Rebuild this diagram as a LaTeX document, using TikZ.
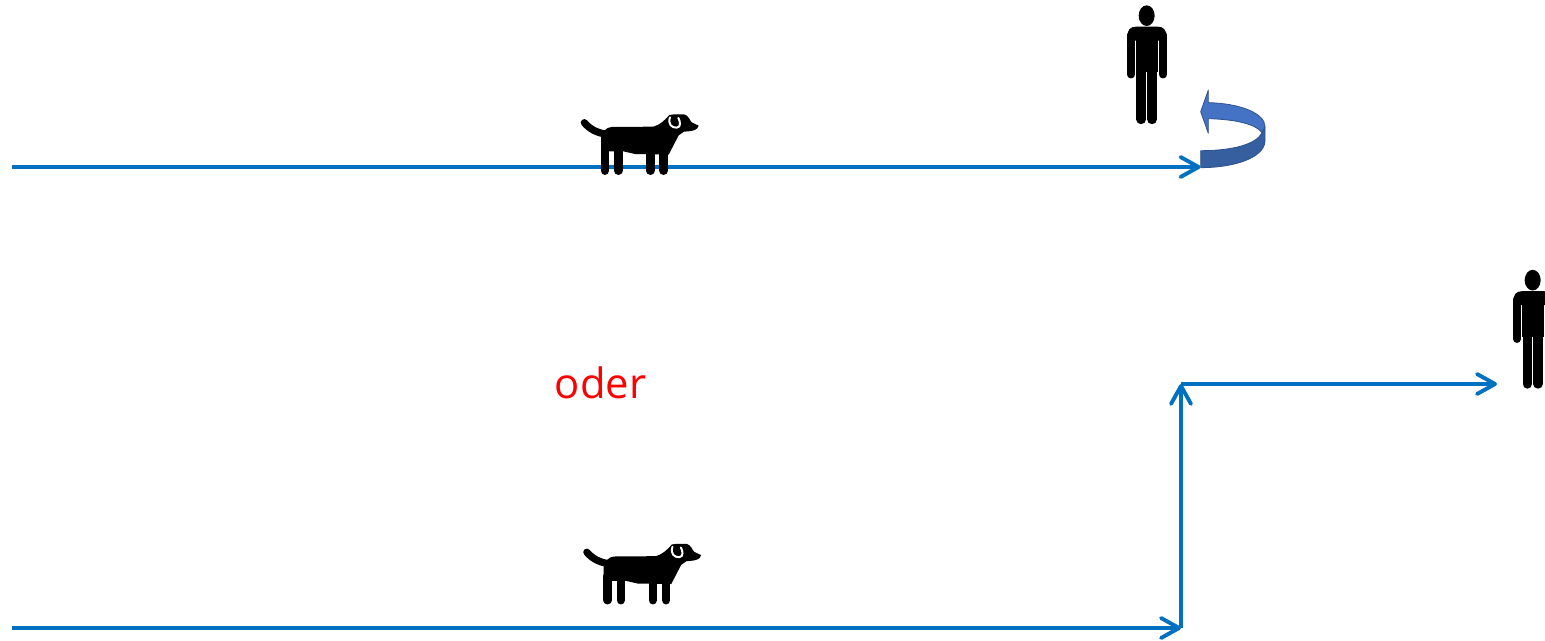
\documentclass[tikz,border=0pt]{standalone}
\usepackage{fontspec}
\setmainfont{Open Sans}
\usetikzlibrary{arrows.meta}
\definecolor{flowblue}{HTML}{0070C0}
\definecolor{turnlight}{HTML}{4472C4}
\definecolor{turndark}{HTML}{365F9F}
\definecolor{turnedge}{HTML}{2F528F}
\tikzset{
  flow/.style={draw=flowblue,line width=3.9pt},
  flowarrow/.style={flow,-{Straight Barb[length=18pt,width=20pt,line width=3.9pt,round]}},
  dog/.pic={
    \begin{scope}[scale=1/3]
      \draw[black,line width=7.2pt,line cap=round] (43,68) .. controls (60,88) and (80,98) .. (110,103);
      \fill[black] (93,112) .. controls (98,95) and (108,82) .. (125,81) -- (250,80) .. controls (270,75) and (285,60) .. (298,45) -- (312,43) -- (342,43) .. controls (355,45) and (360,62) .. (365,67) -- (386,77) .. controls (382,89) and (375,93) .. (342,95) -- (326,106) -- (296,164) -- (230,162) -- (195,162) -- (160,154) -- (117,154) -- (93,154) -- cycle;
      \foreach \lx in {105,145,241,281}
        \draw[black,line width=8.6pt,line cap=round] (\lx,140) -- (\lx,212);
      \draw[white,line width=2pt,line cap=round] (300,52) .. controls (293,72) and (305,84) .. (320,83) .. controls (335,82) and (330,62) .. (325,54);
    \end{scope}
  },
  person/.pic={
    \begin{scope}[scale=1/3]
      \fill[black] (110,47) ellipse [x radius=24,y radius=31];
      \fill[black] (52,112) .. controls (52,90) and (60,80) .. (78,80) -- (144,80) .. controls (160,80) and (170,90) .. (170,112) -- (170,122) -- (52,122) -- cycle;
      \draw[black,line width=7.5pt,line cap=round] (63,105) -- (63,224);
      \draw[black,line width=7.5pt,line cap=round] (159,105) -- (159,224);
      \fill[black] (78,90) rectangle (143,216);
      \draw[black,line width=9.7pt,line cap=round] (94,200) -- (94,358);
      \draw[black,line width=9.7pt,line cap=round] (126,200) -- (126,358);
      \fill[white] (108.5,216) rectangle (111.5,350);
    \end{scope}
  },
  turn/.pic={
    \begin{scope}[scale=1/3,draw=turnedge,line width=.8pt,line join=round]
      \filldraw[fill=turndark] (272,452) .. controls (370,452) and (440,432) .. (456,398) -- (465,380) -- (465,425) .. controls (460,475) and (370,503) .. (272,503) -- cycle;
      \filldraw[fill=turnlight] (272,335) -- (295,270) -- (295,308) .. controls (390,310) and (465,340) .. (465,380) -- (456,398) .. controls (440,374) and (380,358) .. (295,356) -- (295,400) -- cycle;
    \end{scope}
  }
}
\begin{document}
\begin{tikzpicture}[x=1pt,y=-1pt]
  \useasboundingbox (0,0) rectangle (1545,640);
  \coordinate (topstart) at (12,167);
  \coordinate (topend) at (1200.5,167);
  \coordinate (botstart) at (12,628);
  \coordinate (corner) at (1181,628);
  \coordinate (bend) at (1181,384);
  \coordinate (rightend) at (1497,384);
  \draw[flowarrow] (topstart) -- (topend);
  \draw[flowarrow] (botstart) -- (corner);
  \draw[flowarrow] (corner) -- (bend);
  \draw[flowarrow] (bend) -- (rightend);
  \pic at (570,100) {dog};
  \pic at (572.5,529.5) {dog};
  \pic at (1110,0) {person};
  \pic at (1496,264.5) {person};
  \pic at (1110,0) {turn};
  \node[text=red,font=\fontsize{41.8}{46}\selectfont,inner sep=0pt] (oder) at (600.5,383) {oder};
\end{tikzpicture}
\end{document}
